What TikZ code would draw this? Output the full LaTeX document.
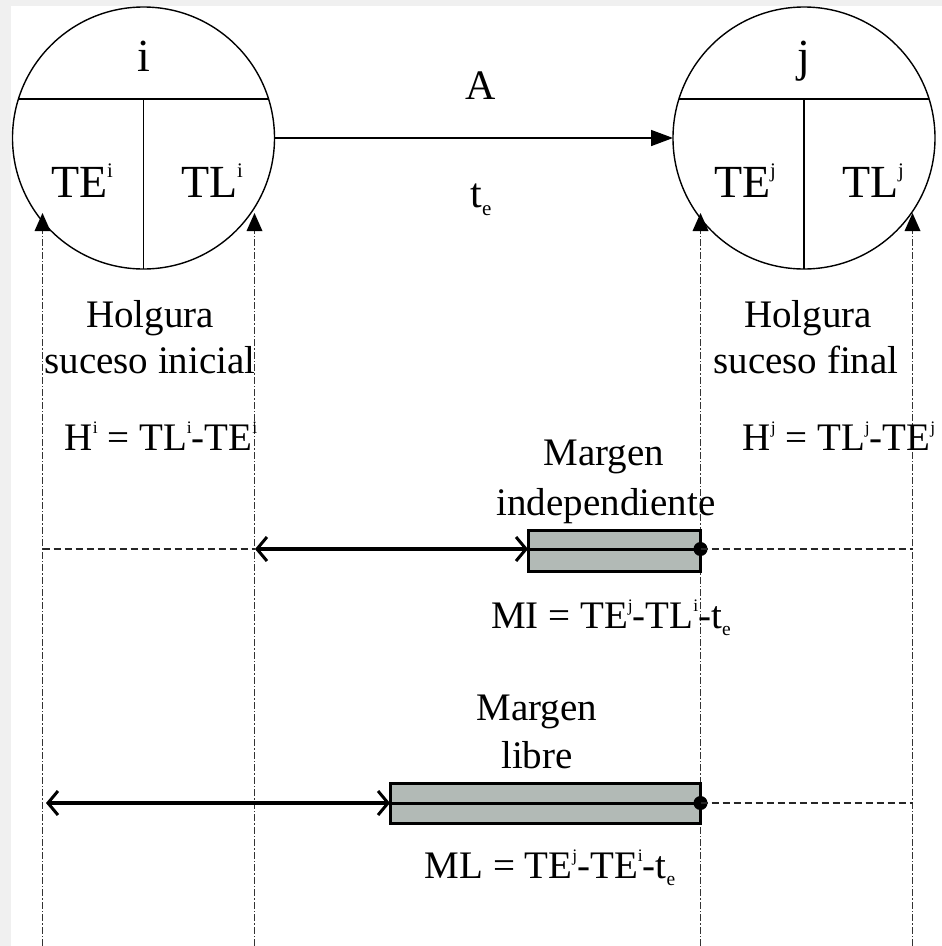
\documentclass[tikz,border=0pt]{standalone}
\usepackage{fontspec}
\setmainfont{Liberation Serif}
\usepackage{graphicx}
\usetikzlibrary{arrows.meta,calc}
\newcommand\supx[1]{\raisebox{0.42em}{\scalebox{0.45}{#1}}}
\newcommand\subx[1]{\raisebox{-0.2em}{\scalebox{0.5}{#1}}}
\definecolor{boxgray}{RGB}{178,186,182}
\tikzset{
  evt/.style={circle, draw, line width=1.4pt, minimum size=262pt, inner sep=0pt, outer sep=0pt},
  big/.style={font=\fontsize{46}{50}\selectfont, inner sep=0pt, anchor=base},
  mid/.style={font=\fontsize{42}{48}\selectfont, inner sep=0pt, anchor=base},
  lbl/.style={font=\fontsize{39}{46}\selectfont, inner sep=0pt, anchor=base},
  vline/.style={draw=black!80, line width=1pt, dash pattern=on 7pt off 2pt on 1.5pt off 2pt},
  thinDash/.style={draw=black!85, line width=1.3pt, dash pattern=on 7pt off 4pt},
  barb/.tip={Straight Barb[length=10pt,width=24pt,line width=3pt]},
  marg/.style={draw, line width=3pt, fill=boxgray},
}
\begin{document}
\begin{tikzpicture}[x=1pt,y=-1pt]
\useasboundingbox (0,0) rectangle (942,946);
\fill[black!6] (0,0) rectangle (942,946);
\fill[white] (11,6) rectangle (942,946);

% events
\node[evt] (ci) at (143.5,138) {};
\node[evt] (cj) at (804,138) {};
\draw[line width=1.4pt] ($(ci.center)+(-125.06,-39)$) -- ($(ci.center)+(125.06,-39)$);
\draw[line width=1.4pt] ($(cj.center)+(-125.06,-39)$) -- ($(cj.center)+(125.06,-39)$);
\draw[line width=1.4pt] ($(ci.center)+(0,-39)$) -- (ci.south);
\draw[line width=1.4pt] ($(cj.center)+(0,-39)$) -- (cj.south);

\node[big] (ni) at (143.5,71) {i};
\node[big] (nj) at (804,71) {j};
\node[big] (tei) at (82,197) {TE\supx{i}};
\node[big] (tli) at (212,197) {TL\supx{i}};
\node[big] (tej) at (745,197) {TE\supx{j}};
\node[big] (tlj) at (873,197) {TL\supx{j}};

% activity
\draw[line width=1.6pt, -{Triangle[width=16pt,length=22pt]}] (ci.east) -- (cj.west);
\node[mid] (na) at (481,99) {A};
\node[mid] (nte) at (481,207) {t\subx{e}};

% vertical reference lines
\coordinate (pTEi) at (42.5,213);
\coordinate (pTLi) at (254.5,213);
\coordinate (pTEj) at (700.5,213);
\coordinate (pTLj) at (912.5,213);
\coordinate (bTEi) at (42.5,946);
\coordinate (bTLi) at (254.5,946);
\coordinate (bTEj) at (700.5,946);
\coordinate (bTLj) at (912.5,946);
\draw[vline] (bTEi) -- (pTEi);
\draw[vline] (bTLi) -- (pTLi);
\draw[vline] (bTEj) -- (pTEj);
\draw[vline] (bTLj) -- (pTLj);
\foreach \p in {pTEi,pTLi,pTEj,pTLj}
  \fill (\p) -- ++(-8,18) -- ++(16,0) -- cycle;

% holguras
\node[lbl] (h1) at (150,327) {Holgura};
\node[lbl] (h2) at (150,373) {suceso inicial};
\node[lbl] (h3) at (808,327) {Holgura};
\node[lbl] (h4) at (806,373) {suceso final};
\node[lbl] (hi) at (161,450) {H\supx{i} = TL\supx{i}-TE\supx{i}};
\node[lbl] (hj) at (839,450) {H\supx{j} = TL\supx{j}-TE\supx{j}};

% margen independiente
\node[lbl] (m1) at (604,465) {Margen};
\node[lbl] (m2) at (606,515) {independiente};
\coordinate (r1a) at (42.5,549);
\coordinate (r1b) at (255,549);
\coordinate (r1c) at (528,549);
\coordinate (r1d) at (700.5,549);
\coordinate (r1e) at (912.5,549);
\draw[thinDash] (r1a) -- (r1b);
\draw[marg] (528,530) rectangle (700.5,571);
\draw[line width=3pt] (r1c) -- (r1d);
\draw[line width=3.2pt, barb-barb] (r1b) -- (r1c);
\fill (r1d) circle (7pt);
\draw[thinDash] (r1d) -- (r1e);
\node[lbl] (mi) at (611,628) {MI = TE\supx{j}-TL\supx{i}-t\subx{e}};

% margen libre
\node[lbl] (l1) at (537,720) {Margen};
\node[lbl] (l2) at (537,768) {libre};
\coordinate (r2a) at (46,803);
\coordinate (r2c) at (390,803);
\coordinate (r2d) at (700.5,803);
\coordinate (r2e) at (912.5,803);
\draw[marg] (390,783) rectangle (700.5,823);
\draw[line width=3pt] (r2c) -- (r2d);
\draw[line width=3.2pt, barb-barb] (r2a) -- (r2c);
\fill (r2d) circle (7pt);
\draw[thinDash] (r2d) -- (r2e);
\node[lbl] (ml) at (550,878) {ML = TE\supx{j}-TE\supx{i}-t\subx{e}};
\end{tikzpicture}
\end{document}
